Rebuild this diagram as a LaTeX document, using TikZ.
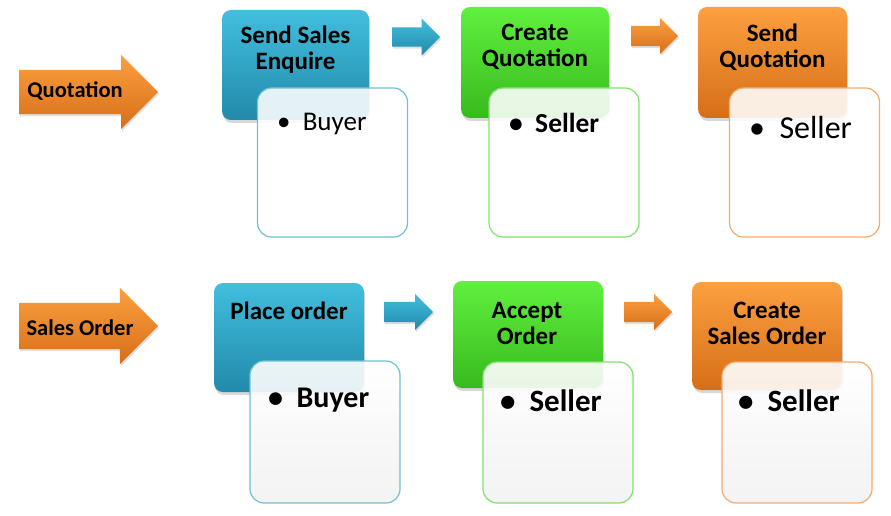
\documentclass[tikz,border=0pt]{standalone}
\usepackage{fontspec}
\setmainfont{Carlito}
\usetikzlibrary{shapes.arrows,shadows}
\definecolor{bluetop}{RGB}{66,190,222}
\definecolor{bluebot}{RGB}{34,138,170}
\definecolor{greentop}{RGB}{96,240,62}
\definecolor{greenbot}{RGB}{56,186,30}
\definecolor{orangetop}{RGB}{252,160,64}
\definecolor{orangebot}{RGB}{214,110,24}
\definecolor{blueline}{RGB}{112,192,214}
\definecolor{greenline}{RGB}{128,226,106}
\definecolor{orangeline}{RGB}{246,170,110}
\newcommand{\bul}{\textbullet\hspace{0.45em}}
\tikzset{
  x=1pt,y=-1pt,
  headbox/.style={rounded corners=9pt, inner sep=0pt, draw=none,
    drop shadow={shadow xshift=1pt, shadow yshift=-3pt, opacity=0.3}},
  bluebox/.style={headbox, top color=bluetop, bottom color=bluebot},
  greenbox/.style={headbox, top color=greentop, bottom color=greenbot},
  orangebox/.style={headbox, top color=orangetop, bottom color=orangebot},
  notebox/.style={rounded corners=14pt, inner sep=0pt, line width=1.2pt,
    minimum width=150pt, fill=white, fill opacity=0.88},
  notegray/.style={rounded corners=14pt, inner sep=0pt, line width=1.2pt,
    minimum width=150pt, top color=white, bottom color=black!5, fill opacity=0.9},
  flowarrow/.style={single arrow, inner xsep=0pt, shape border rotate=0,
    anchor=tail, draw=none,
    drop shadow={shadow xshift=1pt, shadow yshift=-2pt, opacity=0.25}},
  bluearrow/.style={flowarrow, top color=bluetop, bottom color=bluebot},
  orangearrow/.style={flowarrow, top color=orangetop, bottom color=orangebot},
  headtxt/.style={font=\fontsize{25}{26}\selectfont\bfseries, align=center, inner sep=0pt},
  notetxt/.style={inner sep=0pt, anchor=west},
  labeltxt/.style={font=\fontsize{22.5}{24}\selectfont\bfseries, inner sep=0pt},
}
\begin{document}
\begin{tikzpicture}
\useasboundingbox[fill=white] (0,0) rectangle (891,516);

% ---------- row 1 ----------
\node[orangearrow, minimum height=139pt, inner ysep=22pt,
  single arrow head extend=15pt] (qarrow) at (19,92) {};
\node[labeltxt] (qlabel) at (75,91) {Quotation};

\node[bluebox, minimum width=147pt, minimum height=110pt] (b1) at (295.5,65) {};
\node[headtxt] (t1) at (295.5,50) {Send Sales\\Enquire};
\node[notebox, draw=blueline, minimum height=149pt] (w1) at (332.5,162.5) {};
\node[notetxt, font=\fontsize{27}{29}\selectfont] (n1) at (277,124) {\bul Buyer};

\node[bluearrow, minimum height=48pt, inner ysep=9.5pt,
  single arrow head extend=9pt] (a1) at (392,37) {};

\node[greenbox, minimum width=148pt, minimum height=111pt] (b2) at (535,62.5) {};
\node[headtxt] (t2) at (535,47) {Create\\Quotation};
\node[notebox, draw=greenline, minimum height=149pt] (w2) at (564,162.5) {};
\node[notetxt, font=\fontsize{27.5}{29}\selectfont\bfseries] (n2) at (509,123) {\bul Seller};

\node[orangearrow, minimum height=47pt, inner ysep=10pt,
  single arrow head extend=8pt] (a2) at (631,36) {};

\node[orangebox, minimum width=149pt, minimum height=111pt] (b3) at (772.5,62.5) {};
\node[headtxt] (t3) at (772.5,47) {Send\\Quotation};
\node[notebox, draw=orangeline, minimum height=149pt] (w3) at (804.5,162.5) {};
\node[notetxt, font=\fontsize{32}{34}\selectfont] (n3) at (749,128) {\bul Seller};

% ---------- row 2 ----------
\node[orangearrow, minimum height=139pt, inner ysep=23pt,
  single arrow head extend=15pt] (sarrow) at (19,326) {};
\node[labeltxt] (slabel) at (80,328) {Sales Order};

\node[bluebox, minimum width=150pt, minimum height=109pt] (b4) at (289,337.5) {};
\node[headtxt] (t4) at (289,311) {Place order};
\node[notegray, draw=blueline, minimum height=142pt] (w4) at (325,432) {};
\node[notetxt, font=\fontsize{30}{32}\selectfont\bfseries] (n4) at (268,400) {\bul Buyer};

\node[bluearrow, minimum height=49pt, inner ysep=10pt,
  single arrow head extend=8pt] (a3) at (384,312) {};

\node[greenbox, minimum width=150pt, minimum height=107pt] (b5) at (528,334.5) {};
\node[headtxt] (t5) at (527,323) {Accept\\Order};
\node[notegray, draw=greenline, minimum height=141pt] (w5) at (558,432.5) {};
\node[notetxt, font=\fontsize{31}{33}\selectfont\bfseries] (n5) at (500,401) {\bul Seller};

\node[orangearrow, minimum height=48pt, inner ysep=10pt,
  single arrow head extend=8pt] (a4) at (624,312) {};

\node[orangebox, minimum width=150pt, minimum height=108pt] (b6) at (767,336) {};
\node[headtxt] (t6) at (767,323) {Create\\Sales Order};
\node[notegray, draw=orangeline, minimum height=141pt] (w6) at (797,432.5) {};
\node[notetxt, font=\fontsize{31}{33}\selectfont\bfseries] (n6) at (738,401) {\bul Seller};
\end{tikzpicture}
\end{document}
